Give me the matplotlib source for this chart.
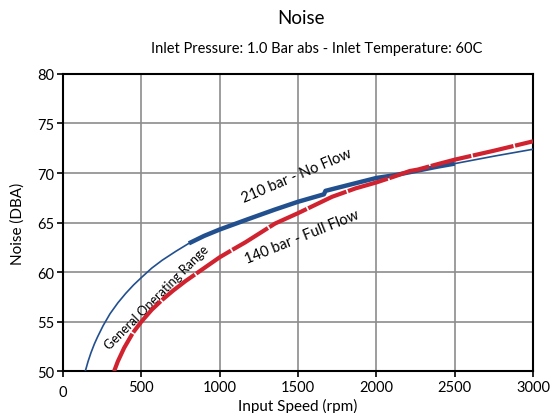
import numpy as np
import matplotlib.pyplot as plt

plt.rcParams['font.family'] = ['Lato', 'DejaVu Sans']

# 210 bar - No Flow (blue)
no_flow_rpm = np.array([142, 160, 178, 200, 220, 256, 300, 350, 400, 450, 500, 566, 633, 720, 803,
                        900, 1000, 1182, 1350, 1500, 1665, 1675, 1824, 2000, 2124, 2265, 2392,
                        2500, 2750, 3000])
no_flow_dba = np.array([50.0, 51.0, 51.85, 52.75, 53.45, 54.6, 55.8, 56.9, 57.85, 58.7, 59.45, 60.4,
                        61.2, 62.1, 62.9, 63.65, 64.3, 65.35, 66.3, 67.1, 67.85, 68.2, 68.8, 69.5,
                        69.8, 70.25, 70.65, 70.95, 71.7, 72.4])
thick_start, thick_end = 800, 2550

# 140 bar - Full Flow (red)
full_flow_rpm = np.array([326, 350, 390, 445, 500, 566, 633, 700, 782, 900, 1000, 1075, 1163, 1353,
                          1500, 1717, 1867, 2000, 2124, 2212, 2265, 2392, 2500, 2750, 3000])
full_flow_dba = np.array([50.0, 51.0, 52.35, 53.85, 55.0, 56.2, 57.2, 58.1, 59.1, 60.4, 61.5, 62.2,
                          63.0, 64.9, 65.95, 67.6, 68.45, 69.05, 69.7, 70.2, 70.35, 70.9, 71.35,
                          72.25, 73.2])

x_ticks = [0, 500, 1000, 1500, 2000, 2500, 3000]
y_ticks = [50, 55, 60, 65, 70, 75, 80]

blue = '#22508f'
red = '#d0232f'

fig = plt.figure(figsize=(5.53, 4.14), dpi=100)
ax = fig.add_axes([0.114, 0.101, 0.850, 0.718])

ax.plot(no_flow_rpm, no_flow_dba, color=blue, lw=1.2, zorder=3, solid_joinstyle='round')
mask = (no_flow_rpm >= thick_start) & (no_flow_rpm <= thick_end)
ax.plot(no_flow_rpm[mask], no_flow_dba[mask], color=blue, lw=3.2, zorder=3,
        solid_capstyle='butt', solid_joinstyle='round')
ax.plot(full_flow_rpm, full_flow_dba, color=red, lw=3.0, zorder=4,
        dashes=(10, 0.4), dash_capstyle='butt', dash_joinstyle='round')

ax.set_xlim(0, 3000)
ax.set_ylim(50, 80)
ax.set_xticks(x_ticks)
ax.set_yticks(y_ticks)
ax.set_xticklabels([''] + [str(t) for t in x_ticks[1:]])
ax.text(0, -0.045, '0', transform=ax.get_xaxis_transform(), ha='center', va='top', fontsize=10.5)
ax.tick_params(direction='out', length=4, width=1.2, labelsize=10.5, pad=2)
ax.grid(True, color='#8c8c8c', lw=1.2)
ax.set_axisbelow(True)
for s in ax.spines.values():
    s.set_linewidth(1.5)
    s.set_color('black')

ax.set_xlabel('Input Speed (rpm)', fontsize=11, labelpad=3)
ax.set_ylabel('Noise (DBA)', fontsize=11, labelpad=9)

fig.text(0.545, 0.955, 'Noise', ha='center', va='center', fontsize=13.5)
fig.text(0.573, 0.882, 'Inlet Pressure: 1.0 Bar abs - Inlet Temperature: 60C',
         ha='center', va='center', fontsize=10.5)

ax.text(1494, 69.8, '210 bar - No Flow', rotation=23, ha='center', va='center',
        rotation_mode='anchor', fontsize=10.5)
ax.text(1527, 63.6, '140 bar - Full Flow', rotation=22, ha='center', va='center',
        rotation_mode='anchor', fontsize=10.5)
ax.text(600, 57.5, 'General Operating Range', rotation=45, ha='center', va='center',
        rotation_mode='anchor', fontsize=9.2)

fig.savefig('out.png', dpi=100)
